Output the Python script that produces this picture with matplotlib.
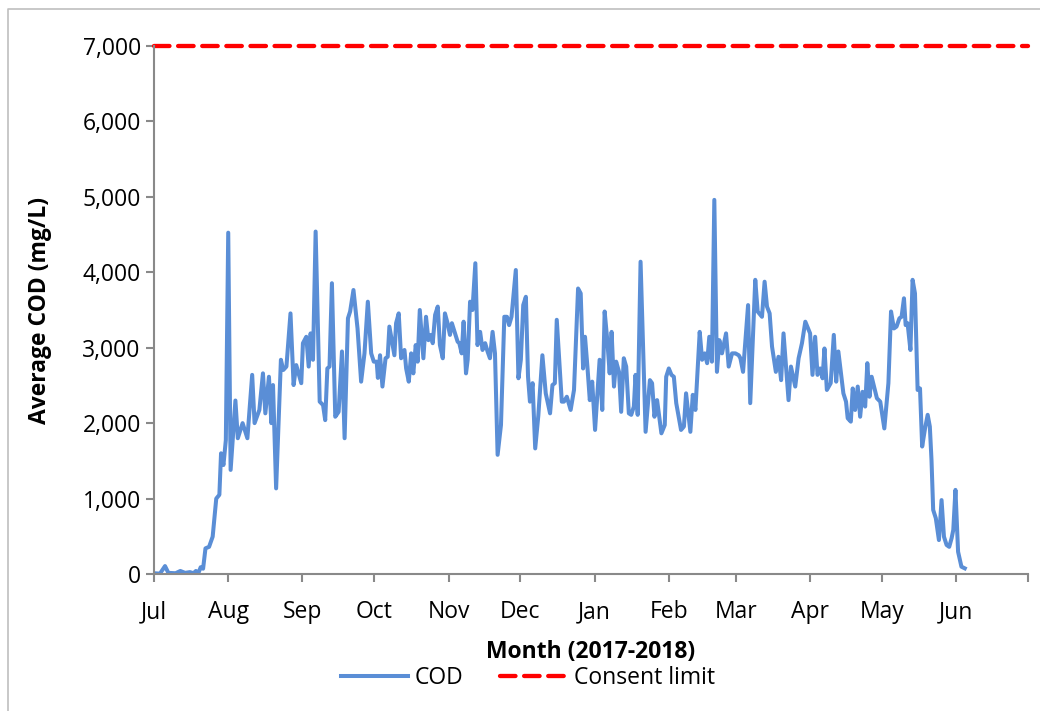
import matplotlib
matplotlib.use("Agg")
import matplotlib.pyplot as plt
import matplotlib.dates as mdates
from matplotlib.lines import Line2D
from matplotlib.ticker import FuncFormatter
from datetime import datetime
import numpy as np

plt.rcParams['font.family'] = ['Open Sans', 'DejaVu Sans']

# days since 1 Jul 2017 and average COD (mg/L)
day = [0, 2.5, 4.6, 6, 9, 11, 13, 15, 16.5, 17.5, 18.5, 19.5, 20.5, 21.5, 23, 24.5,
       26, 27.3, 28, 29, 30, 31, 32, 34, 35, 37, 39, 41, 42, 44, 45.5, 46.5, 48, 49,
       49.7, 51, 53, 54, 55.3, 57, 58.3, 59.4, 61.5, 62.2, 63.6, 64.6, 65.4, 66.4,
       67.5, 69.2, 70.6, 71.5, 72.4, 73.3, 74.3, 75.7, 77.1, 78.5, 79.6, 81, 81.9,
       83.3, 85, 86.5, 87.9, 89.3, 90.7, 91.8, 93, 93.5, 94.4, 95.4, 96.7, 97.6, 98.3,
       100.4, 101.1, 102.2, 103.2, 104.6, 105.3, 106.4, 107.4, 108.3, 109.3, 110.1,
       111, 112.5, 113.6, 114.6, 115.7, 116.4, 117.4, 118.5, 119.4, 120.6, 121.5,
       122.6, 123.6, 124.4, 125.7, 126.8, 127.5, 128.5, 129.3, 130.3, 131, 132, 133,
       134.2, 135.1, 136.2, 137.2, 138.3, 139.3, 140.3, 141.4, 142.4, 143.5, 144.9,
       146.3, 147.4, 148.3, 149.3, 151.1, 152.2, 153.2, 154.2, 155.3, 156.2, 157,
       158.1, 159.2, 160.5, 162.2, 163.6, 165.4, 166.4, 167.4, 168.2, 170.3, 171.2,
       172.4, 174, 175.4, 177.1, 178.2, 179.2, 180, 181, 182, 183, 184.2, 186.1,
       187.2, 188.2, 189.3, 190.3, 191.1, 192.1, 193, 194.2, 195.1, 196.2, 197.2,
       198.3, 199.3, 200.4, 201.1, 202, 203.2, 205.3, 207.1, 208, 209, 210.1, 211.9,
       213.3, 213.9, 215, 216.1, 217.1, 218.1, 220.1, 221.3, 222.2, 224, 225, 226.1,
       227.9, 228.9, 230, 231, 231.9, 233, 234, 235.1, 236.1, 237.2, 238.9, 240,
       241.4, 242.8, 244.2, 244.9, 246, 248.1, 249, 251.1, 252.1, 253.9, 255, 256,
       257.1, 258.1, 259.7, 260.8, 261.9, 262.9, 265, 266, 267.8, 269.2, 270.6, 272,
       274, 275, 276.1, 277.1, 278.2, 279.2, 280, 281, 282.6, 283.9, 284.9, 285.8,
       287.9, 289, 289.7, 291, 291.8, 292.8, 293.9, 294.9, 295.9, 297, 297.9, 298.8,
       299.7, 301.9, 303.3, 305, 306.7, 307.8, 309, 310.1, 311.3, 312.2, 313.2, 313.9,
       314.7, 315.9, 316.8, 317.8, 318.9, 319.9, 320.8, 322, 323.1, 324, 324.7, 325.4,
       326.5, 327.8, 328.9, 329.9, 331, 332.1, 333.1, 333.8, 334.7, 335.8, 337.2, 338.6]
cod = [10, 5, 105, 15, 10, 40, 15, 25, 10, 40, 10, 90, 70, 340, 360, 495,
       1000, 1050, 1600, 1445, 1775, 4525, 1380, 2300, 1800, 2000, 1800, 2640, 2000,
       2175, 2660, 2130, 2615, 2000, 2505, 1135, 2840, 2705, 2750, 3455, 2505, 2770,
       2530, 3060, 3145, 2750, 3190, 2840, 4540, 2285, 2240, 2040, 2725, 2750, 3855,
       2085, 2150, 2950, 1800, 3390, 3480, 3765, 3255, 2550, 2925, 3610, 2925, 2815,
       2815, 2600, 2900, 2485, 2860, 2880, 3280, 2900, 3325, 3455, 2860, 2970, 2725,
       2550, 2925, 2660, 3035, 2815, 3500, 2860, 3410, 3100, 3170, 3060, 3435, 3545,
       3035, 2860, 3455, 3325, 3170, 3325, 3190, 3080, 3060, 2925, 3345, 2660, 2840,
       3610, 3500, 4120, 3035, 3210, 2970, 3060, 2950, 2860, 3210, 2925, 1580, 1975,
       3410, 3410, 3300, 3410, 4030, 2595, 2840, 3565, 3675, 2615, 2285, 2530, 1665,
       2100, 2900, 2395, 2130, 2505, 2530, 3370, 2285, 2285, 2350, 2175, 2440, 3785,
       3720, 2725, 3145, 2750, 2305, 2550, 1910, 2840, 2175, 3480, 3100, 2660, 3210,
       2485, 2815, 2680, 2150, 2860, 2750, 2130, 2110, 2220, 2640, 2110, 4140, 1885,
       2570, 2530, 2085, 2305, 1865, 1975, 2615, 2725, 2640, 2615, 2265, 1910, 1955,
       2395, 1885, 2375, 2175, 3210, 2840, 2925, 2795, 3145, 2815, 4960, 2680, 3100,
       2925, 3190, 2750, 2925, 2925, 2900, 2860, 2680, 3565, 2265, 3900, 3480, 3410,
       3875, 3545, 3455, 3015, 2680, 2880, 2570, 3190, 2305, 2750, 2485, 2860, 3060,
       3345, 3190, 2640, 3145, 2640, 2725, 2595, 2990, 2440, 2530, 3170, 2550, 2950,
       2395, 2285, 2065, 2020, 2460, 2175, 2485, 2085, 2415, 2220, 2795, 2350, 2615,
       2330, 2285, 1930, 2530, 3480, 3255, 3280, 3390, 3410, 3655, 3300, 3325, 2970,
       3900, 3720, 2440, 2460, 1690, 1930, 2110, 1955, 1510, 850, 740, 450, 980, 495,
       385, 360, 475, 585, 1115, 295, 97, 75]
consent_limit = 7000

start = mdates.date2num(datetime(2017, 7, 1))
end = mdates.date2num(datetime(2018, 7, 1))
x = start + np.array(day)

fig = plt.figure(figsize=(10.4, 7.11), dpi=100)
# chart-area border (only left and top edges fall inside the image)
fig.add_artist(Line2D([8/1040, 8/1040, 1.0], [0.0, 1 - 9/711, 1 - 9/711],
                      transform=fig.transFigure, color='#BFBFBF', linewidth=1.2))

ax = fig.add_axes([154/1040, 1 - 574/711, 874/1040, 528/711])
ax.plot(x, cod, color='#5A8ED6', linewidth=2.9, solid_joinstyle='round', label='COD')
ax.axhline(consent_limit, color='#FF0000', linewidth=3.1, dashes=(3.6, 2.0),
           dash_capstyle='round', clip_on=False, label='Consent limit')

ax.set_xlim(start, end)
ax.set_ylim(0, 7000)
ax.set_yticks(np.arange(0, 7001, 1000))
ax.yaxis.set_major_formatter(FuncFormatter(lambda v, p: '{:,.0f}'.format(v)))
ax.xaxis.set_major_locator(mdates.MonthLocator())
ax.xaxis.set_major_formatter(FuncFormatter(
    lambda v, p: mdates.num2date(v).strftime('%b') if v < end - 1 else ''))

for s in ['top', 'right']:
    ax.spines[s].set_visible(False)
for s in ['left', 'bottom']:
    ax.spines[s].set_color('#898989')
    ax.spines[s].set_linewidth(1.5)
ax.tick_params(axis='both', colors='#898989', labelcolor='black', labelsize=16.5,
               length=6, width=1.5, direction='out')
ax.tick_params(axis='x', pad=13)

ax.set_ylabel('Average COD (mg/L)', fontsize=16.5, fontweight='bold', labelpad=22)
ax.set_xlabel('Month (2017-2018)', fontsize=16.5, fontweight='bold', labelpad=11)

fig.legend(loc='center', bbox_to_anchor=(528/1040, 1 - 678/711), ncol=2,
           frameon=False, fontsize=16.5, handlelength=2.9, columnspacing=1.6,
           handletextpad=0.3)

plt.savefig('out.png', dpi=100)
